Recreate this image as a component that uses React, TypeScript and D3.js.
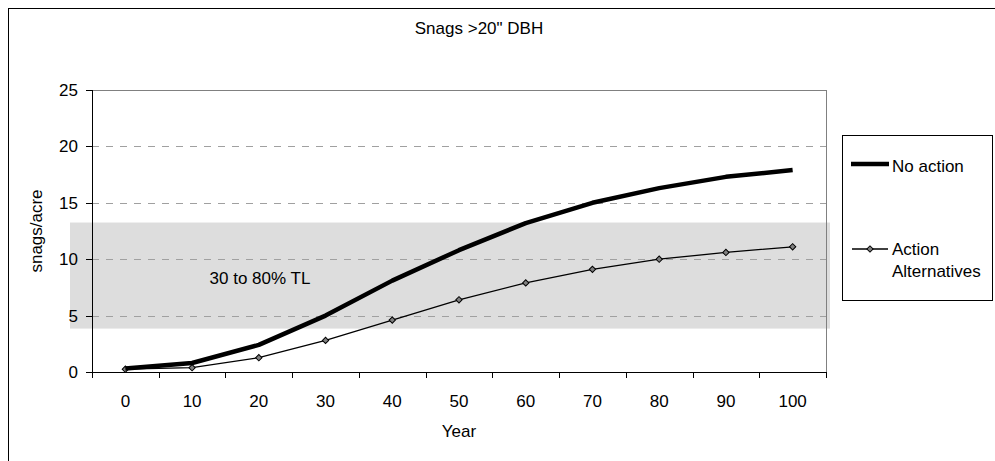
import React from "react";
import * as d3 from "d3";

const years = [0, 10, 20, 30, 40, 50, 60, 70, 80, 90, 100];
const noAction = [0.3, 0.8, 2.4, 5.0, 8.1, 10.8, 13.2, 15.0, 16.3, 17.3, 17.9];
const actionAlternatives = [0.25, 0.38, 1.27, 2.8, 4.6, 6.4, 7.9, 9.1, 10.0, 10.6, 11.1];
const yTicks = [0, 5, 10, 15, 20, 25];
const bandRange = [3.85, 13.25];
const seriesNames = ["No action", "Action Alternatives"];
const title = 'Snags >20" DBH';
const xLabel = "Year";
const yLabel = "snags/acre";
const bandLabel = "30 to 80% TL";

const W = 995;
const H = 461;
const L = 92, R = 826, T = 90, B = 372;
const FONT = "'Liberation Sans', Arial, sans-serif";
const FS = 17;

export default function App() {
  const x = d3.scaleBand<number>().domain(years).range([L, R]).paddingInner(0).paddingOuter(0);
  const y = d3.scaleLinear().domain([0, 25]).range([B, T]);
  const cx = (d: number) => (x(d) as number) + x.bandwidth() / 2;
  const lineGen = d3.line<[number, number]>().x((d) => cx(d[0])).y((d) => y(d[1]));
  const naPts: [number, number][] = years.map((yr, i) => [yr, noAction[i]]);
  const aaPts: [number, number][] = years.map((yr, i) => [yr, actionAlternatives[i]]);
  const diamond = d3.symbol().type(d3.symbolSquare).size(20)() as string;
  const boundaries = years.map((yr) => x(yr) as number).concat([R]);

  return (
    <svg width={W} height={H} style={{ position: "absolute", left: 0, top: 0, background: "#fff" }} fontFamily={FONT}>
      <rect x={0} y={0} width={W} height={H} fill="#fff" />
      {/* outer frame */}
      <rect x={8.5} y={8.5} width={1010} height={470} fill="none" stroke="#000" strokeWidth={1} />
      <text x={479} y={34} textAnchor="middle" fontSize={FS} fill="#000">{title}</text>

      {/* band */}
      <rect x={70} y={y(bandRange[1])} width={830 - 70} height={y(bandRange[0]) - y(bandRange[1])} fill="#dddddd" />

      {/* gridlines */}
      {yTicks.filter((t) => t > 0 && t < 25).map((t) => (
        <line key={t} x1={L} x2={R} y1={Math.round(y(t)) + 0.5} y2={Math.round(y(t)) + 0.5} stroke="#a0a0a0" strokeWidth={1} strokeDasharray="7,7" />
      ))}
      <line x1={L} x2={R} y1={Math.round(y(25)) + 0.5} y2={Math.round(y(25)) + 0.5} stroke="#808080" strokeWidth={1} />
      <line x1={R + 0.5} x2={R + 0.5} y1={T} y2={B} stroke="#808080" strokeWidth={1} />

      {/* band label */}
      <text x={260} y={284} textAnchor="middle" fontSize={FS} fill="#000">{bandLabel}</text>

      {/* axes */}
      <line x1={L + 0.5} x2={L + 0.5} y1={T} y2={B} stroke="#000" strokeWidth={1} />
      <line x1={L} x2={R + 1} y1={B + 0.5} y2={B + 0.5} stroke="#000" strokeWidth={1} />
      {yTicks.map((t) => (
        <g key={t}>
          <line x1={L - 6} x2={L} y1={Math.round(y(t)) + 0.5} y2={Math.round(y(t)) + 0.5} stroke="#000" />
          <text x={78} y={y(t) + 6} textAnchor="end" fontSize={FS} fill="#000">{t}</text>
        </g>
      ))}
      {boundaries.map((bx, i) => (
        <line key={i} x1={Math.round(bx) + 0.5} x2={Math.round(bx) + 0.5} y1={B} y2={B + 6} stroke="#000" />
      ))}
      {years.map((yr) => (
        <text key={yr} x={cx(yr)} y={407} textAnchor="middle" fontSize={FS} fill="#000">{yr}</text>
      ))}
      <text x={(L + R) / 2} y={437} textAnchor="middle" fontSize={FS} fill="#000">{xLabel}</text>
      <text transform={`translate(42, ${(T + B) / 2}) rotate(-90)`} textAnchor="middle" fontSize={FS} fill="#000">{yLabel}</text>

      {/* series */}
      <path d={lineGen(aaPts) as string} fill="none" stroke="#000" strokeWidth={1.3} />
      {aaPts.map((p, i) => (
        <path key={i} d={diamond} transform={`translate(${cx(p[0])}, ${y(p[1])}) rotate(45)`} fill="#808080" stroke="#000" strokeWidth={1} />
      ))}
      <path d={lineGen(naPts) as string} fill="none" stroke="#000" strokeWidth={4.5} strokeLinejoin="round" />

      {/* legend */}
      <rect x={842.5} y={135.5} width={150} height={165} fill="#fff" stroke="#000" strokeWidth={1} />
      <line x1={851} x2={889} y1={164} y2={164} stroke="#000" strokeWidth={4.5} />
      <text x={892} y={172} fontSize={FS} fill="#000">{seriesNames[0]}</text>
      <line x1={852} x2={888} y1={249} y2={249} stroke="#000" strokeWidth={1.3} />
      <path d={diamond} transform={`translate(870, 249) rotate(45)`} fill="#808080" stroke="#000" strokeWidth={1} />
      <text x={892} y={255} fontSize={FS} fill="#000">
        <tspan x={892}>Action</tspan>
        <tspan x={892} dy={21.5}>Alternatives</tspan>
      </text>
    </svg>
  );
}
